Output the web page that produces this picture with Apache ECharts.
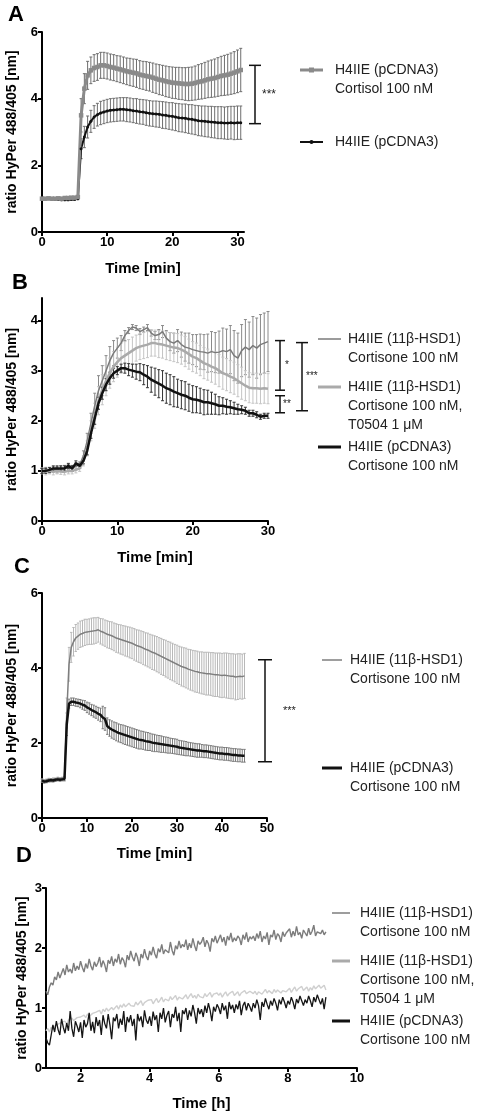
<!DOCTYPE html>
<html>
<head>
<meta charset="utf-8">
<script src="https://cdn.jsdelivr.net/npm/echarts@6/dist/echarts.min.js"></script>
<style>
html,body{margin:0;padding:0;background:#fff;}
#chart{width:478px;height:1115px;}
</style>
</head>
<body>
<div id="chart"></div>
<script>
// ---------- Panel A (time in min, step 0.5) ----------
const tA_start = 0, tA_step = 0.5;
const aCortisol = [1.0,1.0,1.01,1.0,1.0,1.01,1.0,1.02,1.02,1.03,1.03,1.05,
  3.5,4.3,4.7,4.85,4.92,4.95,5.0,5.0,4.98,4.95,
  4.93,4.9,4.88,4.85,4.82,4.8,4.78,4.76,4.72,4.7,
  4.68,4.66,4.63,4.6,4.57,4.55,4.52,4.5,4.48,4.47,
  4.46,4.45,4.44,4.44,4.45,4.47,4.5,4.52,4.55,4.58,
  4.6,4.62,4.65,4.68,4.7,4.72,4.75,4.78,4.82,4.86];
const aCortisolErr = [0.03,0.03,0.03,0.03,0.03,0.03,0.03,0.03,0.03,0.03,0.03,0.03,
  0.5,0.45,0.42,0.4,0.4,0.4,0.39,0.39,0.39,0.39,
  0.39,0.39,0.4,0.4,0.4,0.41,0.41,0.42,0.42,0.42,
  0.43,0.43,0.44,0.44,0.45,0.45,0.46,0.46,0.47,0.47,
  0.48,0.48,0.49,0.5,0.5,0.51,0.52,0.53,0.54,0.55,
  0.56,0.57,0.58,0.59,0.6,0.61,0.62,0.63,0.64,0.65];
const aControl = [1.0,1.0,1.0,0.99,0.98,0.98,0.97,0.97,0.97,0.98,0.98,1.0,
  2.5,2.85,3.15,3.32,3.45,3.52,3.57,3.6,3.63,3.65,
  3.66,3.67,3.68,3.68,3.67,3.66,3.64,3.63,3.61,3.6,
  3.58,3.56,3.55,3.54,3.53,3.51,3.5,3.48,3.47,3.45,
  3.43,3.42,3.41,3.39,3.38,3.36,3.34,3.33,3.32,3.31,
  3.3,3.29,3.28,3.28,3.27,3.27,3.28,3.27,3.28,3.28];
const aControlErr = [0.03,0.03,0.03,0.03,0.03,0.03,0.03,0.03,0.03,0.03,0.03,0.03,
  0.3,0.32,0.33,0.33,0.34,0.34,0.35,0.35,0.35,0.35,
  0.35,0.35,0.35,0.35,0.36,0.36,0.36,0.37,0.37,0.37,
  0.38,0.38,0.38,0.39,0.39,0.4,0.4,0.4,0.41,0.41,
  0.42,0.42,0.43,0.43,0.44,0.44,0.45,0.45,0.46,0.46,
  0.47,0.47,0.48,0.48,0.48,0.49,0.49,0.5,0.5,0.5];

// ---------- Panel B (time in min, step 0.5) ----------
const tB_start = 0, tB_step = 0.5;
const bHSD = [1.0,1.02,1.0,1.03,1.02,1.05,1.05,1.08,1.05,1.1,
  1.12,1.3,1.6,1.95,2.3,2.6,2.8,3.0,3.2,3.35,
  3.45,3.55,3.7,3.8,3.87,3.85,3.78,3.82,3.86,3.75,
  3.7,3.72,3.78,3.65,3.58,3.55,3.6,3.52,3.47,3.45,
  3.42,3.4,3.38,3.37,3.35,3.38,3.36,3.37,3.4,3.38,
  3.42,3.3,3.25,3.4,3.47,3.42,3.5,3.45,3.52,3.55,
  3.58];
const bHSDErr = [0.05,0.05,0.04,0.05,0.06,0.05,0.06,0.05,0.06,0.06,
  0.06,0.1,0.15,0.2,0.25,0.3,0.3,0.3,0.28,0.25,
  0.2,0.15,0.1,0.06,0.05,0.05,0.06,0.05,0.06,0.06,
  0.08,0.1,0.12,0.15,0.18,0.2,0.22,0.25,0.28,0.3,
  0.3,0.32,0.35,0.35,0.38,0.4,0.4,0.42,0.45,0.45,
  0.48,0.5,0.5,0.52,0.55,0.55,0.58,0.6,0.6,0.6,
  0.6];
const bInhib = [1.0,0.98,1.0,0.98,1.0,0.99,0.98,1.0,1.0,1.02,
  1.05,1.2,1.45,1.8,2.1,2.4,2.62,2.8,2.95,3.08,
  3.17,3.25,3.3,3.35,3.4,3.45,3.48,3.5,3.52,3.55,
  3.55,3.53,3.52,3.5,3.48,3.46,3.45,3.42,3.38,3.33,
  3.28,3.25,3.2,3.15,3.12,3.08,3.05,3.0,2.95,2.92,
  2.88,2.85,2.8,2.75,2.7,2.66,2.65,2.65,2.64,2.65,
  2.64];
const bInhibErr = [0.06,0.06,0.06,0.06,0.06,0.06,0.06,0.06,0.06,0.06,
  0.06,0.1,0.15,0.2,0.25,0.28,0.3,0.3,0.3,0.3,
  0.3,0.3,0.28,0.27,0.27,0.26,0.26,0.26,0.26,0.26,
  0.26,0.27,0.27,0.28,0.28,0.28,0.29,0.29,0.3,0.3,
  0.3,0.3,0.3,0.31,0.31,0.31,0.32,0.32,0.32,0.32,
  0.32,0.32,0.32,0.32,0.3,0.3,0.3,0.3,0.3,0.3,
  0.3];
const bControl = [1.0,1.0,1.02,1.05,1.05,1.05,1.05,1.1,1.05,1.15,
  1.1,1.2,1.4,1.75,2.05,2.35,2.55,2.72,2.85,2.95,
  3.0,3.05,3.05,3.02,3.0,2.98,2.97,2.92,2.88,2.82,
  2.78,2.74,2.7,2.65,2.62,2.58,2.55,2.52,2.5,2.46,
  2.43,2.42,2.4,2.37,2.37,2.35,2.33,2.3,2.3,2.28,
  2.27,2.25,2.23,2.22,2.2,2.15,2.15,2.12,2.08,2.1,
  2.1];
const bControlErr = [0.05,0.05,0.05,0.05,0.05,0.05,0.05,0.05,0.05,0.05,
  0.05,0.06,0.08,0.1,0.12,0.12,0.12,0.12,0.12,0.1,
  0.08,0.08,0.1,0.12,0.13,0.15,0.17,0.2,0.22,0.25,
  0.27,0.28,0.3,0.3,0.3,0.3,0.28,0.28,0.28,0.27,
  0.27,0.26,0.25,0.25,0.24,0.22,0.2,0.18,0.16,0.15,
  0.13,0.12,0.1,0.08,0.07,0.06,0.06,0.06,0.05,0.05,
  0.05];

// ---------- Panel C (time in min, step 0.5) ----------
const tC_start = 0, tC_step = 0.5;
const cHSD = [1.0,0.98,1.0,1.02,1.0,1.03,1.02,1.05,1.04,1.05,
  1.06,2.8,4.1,4.55,4.7,4.8,4.85,4.9,4.92,4.95,
  4.96,4.97,4.98,4.99,5.0,5.02,4.98,4.96,4.93,4.9,
  4.88,4.86,4.83,4.8,4.78,4.76,4.74,4.72,4.7,4.68,
  4.66,4.63,4.6,4.58,4.56,4.53,4.5,4.48,4.45,4.42,
  4.4,4.37,4.34,4.31,4.28,4.25,4.22,4.19,4.16,4.13,
  4.1,4.07,4.04,4.02,4.0,3.97,3.95,3.93,3.91,3.9,
  3.88,3.87,3.86,3.85,3.85,3.84,3.83,3.82,3.82,3.81,
  3.8,3.81,3.8,3.79,3.78,3.78,3.76,3.77,3.78,3.77,
  3.79];
const cHSDErr = [0.04,0.04,0.04,0.04,0.04,0.04,0.04,0.04,0.04,0.04,
  0.05,0.4,0.45,0.4,0.38,0.36,0.35,0.35,0.35,0.35,
  0.34,0.34,0.35,0.35,0.34,0.33,0.34,0.35,0.35,0.36,
  0.36,0.37,0.37,0.38,0.38,0.39,0.39,0.4,0.4,0.41,
  0.41,0.42,0.42,0.43,0.43,0.44,0.44,0.45,0.45,0.46,
  0.46,0.47,0.47,0.48,0.48,0.49,0.49,0.5,0.5,0.5,
  0.51,0.51,0.52,0.52,0.53,0.53,0.54,0.54,0.55,0.55,
  0.55,0.56,0.56,0.57,0.57,0.57,0.58,0.58,0.58,0.59,
  0.59,0.59,0.6,0.6,0.6,0.6,0.61,0.61,0.6,0.6,
  0.6];
const cControl = [1.0,0.97,0.98,1.0,1.01,1.0,1.02,1.03,1.02,1.03,
  1.04,2.5,3.05,3.1,3.1,3.08,3.07,3.05,3.02,3.0,
  2.95,2.92,2.88,2.85,2.82,2.78,2.75,2.68,2.64,2.45,
  2.4,2.36,2.33,2.3,2.27,2.25,2.23,2.21,2.19,2.17,
  2.15,2.13,2.11,2.09,2.08,2.07,2.05,2.04,2.03,2.01,
  2.0,1.99,1.98,1.97,1.96,1.95,1.94,1.93,1.92,1.91,
  1.9,1.88,1.87,1.86,1.85,1.84,1.83,1.82,1.81,1.8,
  1.8,1.79,1.78,1.78,1.77,1.76,1.75,1.74,1.73,1.72,
  1.72,1.71,1.71,1.7,1.69,1.68,1.68,1.67,1.67,1.66,
  1.66];
const cControlErr = [0.04,0.04,0.04,0.04,0.04,0.04,0.04,0.04,0.04,0.04,
  0.05,0.3,0.12,0.1,0.1,0.1,0.1,0.11,0.12,0.13,
  0.14,0.15,0.15,0.16,0.16,0.17,0.18,0.3,0.3,0.22,
  0.22,0.23,0.23,0.24,0.24,0.24,0.25,0.25,0.25,0.25,
  0.25,0.25,0.25,0.25,0.24,0.24,0.24,0.24,0.23,0.23,
  0.23,0.22,0.22,0.22,0.21,0.21,0.21,0.2,0.2,0.2,
  0.2,0.19,0.19,0.19,0.19,0.18,0.18,0.18,0.18,0.18,
  0.18,0.17,0.17,0.17,0.17,0.17,0.17,0.17,0.17,0.17,
  0.17,0.17,0.17,0.17,0.17,0.17,0.17,0.17,0.17,0.17,
  0.17];

// ---------- Panel D (time in h, step 0.05) ----------
const tD_start = 1.0, tD_step = 0.05;
const dHSD = [1.28,1.22,1.35,1.42,1.38,1.52,1.47,1.6,1.5,1.58,
  1.66,1.55,1.72,1.6,1.65,1.58,1.75,1.62,1.7,1.64,
  1.78,1.68,1.6,1.74,1.66,1.82,1.7,1.63,1.77,1.69,
  1.75,1.85,1.68,1.79,1.72,1.6,1.8,1.74,1.86,1.7,
  1.82,1.76,1.9,1.73,1.84,1.79,1.68,1.88,1.8,1.95,
  1.85,1.78,1.92,1.84,1.7,1.9,1.83,1.98,1.86,1.8,
  1.95,1.88,2.02,1.9,1.83,1.99,1.93,2.06,1.9,1.97,
  2.0,1.92,2.1,1.96,1.88,2.04,1.98,2.12,2.0,2.06,
  2.02,2.14,1.97,2.08,2.0,2.16,2.04,1.95,2.12,2.06,
  2.1,2.18,2.02,2.13,2.07,1.94,2.16,2.1,2.2,2.08,
  2.15,2.22,2.1,2.18,2.04,2.2,2.13,2.25,2.1,2.17,
  2.12,2.2,2.16,2.05,2.22,2.14,2.26,2.1,2.19,2.15,
  2.2,2.12,2.24,2.16,2.28,2.1,2.2,2.15,2.26,2.05,
  2.22,2.18,2.3,2.14,2.24,2.2,2.1,2.27,2.19,2.25,
  2.24,2.32,2.18,2.28,2.2,2.36,2.22,2.26,2.16,2.3,
  2.25,2.2,2.33,2.22,2.28,2.38,2.2,2.27,2.3,2.24,
  2.3,2.22,2.27];
const dInhib = [0.62,0.66,0.6,0.68,0.64,0.7,0.67,0.73,0.7,0.76,
  0.74,0.78,0.72,0.8,0.77,0.83,0.79,0.76,0.84,0.81,
  0.85,0.82,0.88,0.84,0.9,0.86,0.83,0.91,0.88,0.93,
  0.92,0.96,0.9,0.98,0.94,1.0,0.95,0.92,1.01,0.97,
  1.0,1.04,0.98,1.05,1.01,1.07,1.02,0.99,1.08,1.04,
  1.06,1.03,1.1,1.05,1.08,1.12,1.04,1.09,1.07,1.13,
  1.1,1.14,1.07,1.12,1.16,1.09,1.13,1.18,1.1,1.15,
  1.15,1.12,1.19,1.14,1.17,1.21,1.13,1.18,1.2,1.15,
  1.18,1.22,1.15,1.2,1.24,1.17,1.21,1.16,1.23,1.19,
  1.2,1.17,1.24,1.19,1.22,1.26,1.18,1.23,1.2,1.25,
  1.21,1.25,1.18,1.23,1.27,1.2,1.24,1.22,1.28,1.21,
  1.23,1.27,1.2,1.25,1.22,1.29,1.24,1.21,1.28,1.25,
  1.24,1.28,1.22,1.27,1.3,1.23,1.26,1.31,1.25,1.29,
  1.27,1.24,1.31,1.26,1.3,1.33,1.25,1.29,1.32,1.27,
  1.29,1.33,1.26,1.31,1.35,1.28,1.32,1.3,1.36,1.29,
  1.31,1.35,1.28,1.34,1.3,1.37,1.32,1.29,1.38,1.33,
  1.33,1.38,1.3];
const dControl = [0.5,0.42,0.38,0.55,0.72,0.6,0.78,0.64,0.55,0.82,
  0.68,0.58,0.75,0.62,0.95,0.66,0.52,0.78,0.7,0.6,
  0.76,0.5,0.8,0.68,0.74,0.92,0.62,0.77,0.58,0.85,
  0.7,0.8,0.55,0.88,0.74,0.66,0.9,0.72,0.48,0.84,
  0.78,0.9,0.66,0.82,0.72,0.95,0.6,0.85,0.76,0.88,
  0.7,0.82,0.46,0.9,0.78,0.86,0.68,0.96,0.8,0.74,
  0.86,0.7,0.94,0.8,0.88,0.6,0.92,0.82,1.0,0.76,
  0.88,0.95,0.68,0.9,0.84,1.02,0.78,0.92,0.6,0.96,
  0.9,1.0,0.8,0.96,0.86,1.05,0.92,0.74,1.0,0.9,
  0.98,0.85,1.04,0.92,1.08,0.96,0.78,1.02,0.94,1.06,
  1.0,0.9,1.08,0.96,1.04,0.82,1.1,0.98,1.05,0.92,
  1.06,0.98,1.12,0.88,1.04,1.1,0.96,1.08,1.02,0.94,
  1.08,1.0,1.14,1.04,0.8,1.1,1.02,1.16,1.06,0.98,
  1.12,1.04,1.16,1.08,0.96,1.14,1.06,1.18,1.1,1.0,
  1.12,1.06,1.18,1.1,0.98,1.15,1.08,1.2,1.12,1.04,
  1.14,1.08,1.2,1.12,1.02,1.18,1.1,1.22,1.14,1.06,
  1.16,0.98,1.18];

// ---------- Tick labels ----------
const ticksAx = [0,10,20,30], ticksAy = [0,2,4,6];
const ticksBx = [0,10,20,30], ticksBy = [0,1,2,3,4];
const ticksCx = [0,10,20,30,40,50], ticksCy = [0,2,4,6];
const ticksDx = [2,4,6,8,10], ticksDy = [0,1,2,3];

// ---------- Significance brackets (data y values) ----------
const bracketsA = [{y1:5.0, y2:3.25, label:'***'}];
const bracketsB = [{y1:3.6, y2:2.61, label:'*'},{y1:2.5, y2:2.16, label:'**'},{y1:3.56, y2:2.2, label:'***'}];
const bracketsC = [{y1:4.22, y2:1.5, label:'***'}];

// ---------- Legend texts ----------
const legA = [['H4IIE (pCDNA3)','Cortisol 100 nM'],['H4IIE (pCDNA3)']];
const legB = [['H4IIE (11\u03b2-HSD1)','Cortisone 100 nM'],['H4IIE (11\u03b2-HSD1)','Cortisone 100 nM,','T0504 1 \u03bcM'],['H4IIE (pCDNA3)','Cortisone 100 nM']];
const legC = [['H4IIE (11\u03b2-HSD1)','Cortisone 100 nM'],['H4IIE (pCDNA3)','Cortisone 100 nM']];
const legD = legB;

const FONT = '"Liberation Sans", Arial, sans-serif';
function times(start, step, n){ const r=[]; for(let i=0;i<n;i++) r.push(+(start+i*step).toFixed(3)); return r; }
function pts(t, v){ return t.map((x,i)=>[x, v[i]]); }

function errSeries(gi, t, v, e, color, z, cap){
  return {type:'custom', xAxisIndex:gi, yAxisIndex:gi, z:z, silent:true, clip:false,
    encode:{x:0, y:[1,2]},
    data: t.map((x,i)=>[x, v[i]-e[i], v[i]+e[i]]),
    renderItem: function(params, api){
      const lo = api.coord([api.value(0), api.value(1)]);
      const hi = api.coord([api.value(0), api.value(2)]);
      const w = cap;
      return {type:'group', children:[
        {type:'line', shape:{x1:lo[0],y1:lo[1],x2:hi[0],y2:hi[1]}, style:{stroke:color, lineWidth:1}},
        {type:'line', shape:{x1:hi[0]-w,y1:hi[1],x2:hi[0]+w,y2:hi[1]}, style:{stroke:color, lineWidth:1}},
        {type:'line', shape:{x1:lo[0]-w,y1:lo[1],x2:lo[0]+w,y2:lo[1]}, style:{stroke:color, lineWidth:1}}
      ]};
    }};
}
function lineSeries(gi, t, v, color, width, symbol, size, z){
  return {type:'line', xAxisIndex:gi, yAxisIndex:gi, data:pts(t,v), z:z, silent:true,
    showSymbol: !!symbol, symbol: symbol || 'none', symbolSize:size||0,
    itemStyle:{color:color}, lineStyle:{color:color, width:width}, animation:false};
}

const grids = [
  {left:42, top:32, width:202, height:200, outerBoundsMode:'none', containLabel:false},
  {left:42, top:298, width:226, height:223, outerBoundsMode:'none', containLabel:false},
  {left:42, top:593, width:225, height:225, outerBoundsMode:'none', containLabel:false},
  {left:46, top:888, width:311, height:180, outerBoundsMode:'none', containLabel:false}
];
const axisLineStyle = {show:true, lineStyle:{color:'#000', width:2}};
const tickStyle = {show:true, length:4, lineStyle:{color:'#000', width:2}};
const labelStyle = {color:'#000', fontFamily:FONT, fontWeight:'bold', fontSize:13, margin:4};

function xAxis(gi, min, max, ticks, name, gap){
  return {type:'value', gridIndex:gi, min:min, max:max,
    axisLine:axisLineStyle, axisTick:Object.assign({customValues:ticks}, tickStyle),
    axisLabel:Object.assign({customValues:ticks}, labelStyle), splitLine:{show:false},
    name:name, nameLocation:'middle', nameGap:gap, nameMoveOverlap:false,
    nameTextStyle:{color:'#000', fontFamily:FONT, fontWeight:'bold', fontSize:15}};
}
function yAxis(gi, min, max, ticks, gap){
  return {type:'value', gridIndex:gi, min:min, max:max,
    axisLine:axisLineStyle, axisTick:Object.assign({customValues:ticks}, tickStyle),
    axisLabel:Object.assign({customValues:ticks}, labelStyle), splitLine:{show:false},
    name:'ratio HyPer 488/405 [nm]', nameLocation:'middle', nameGap:gap, nameRotate:90, nameMoveOverlap:false,
    nameTextStyle:{color:'#000', fontFamily:FONT, fontWeight:'bold', fontSize:14}};
}

const tA = times(tA_start, tA_step, aCortisol.length);
const tB = times(tB_start, tB_step, bHSD.length);
const tC = times(tC_start, tC_step, cHSD.length);
const tD = times(tD_start, tD_step, dHSD.length);

const GRAY_A = '#8a8a8a', DGRAY = '#7a7a7a', BLACK = '#111';

const series = [
  // A
  errSeries(0, tA, aControl, aControlErr, '#6e6e6e', 1, 1.5),
  errSeries(0, tA, aCortisol, aCortisolErr, '#6e6e6e', 1, 1.5),
  lineSeries(0, tA, aControl, BLACK, 2, 'circle', 3, 3),
  lineSeries(0, tA, aCortisol, GRAY_A, 3, 'rect', 4.5, 3),
  // B
  errSeries(1, tB, bHSD, bHSDErr, '#8a8a8a', 1, 1.5),
  errSeries(1, tB, bInhib, bInhibErr, '#c4c4c4', 1, 1.5),
  errSeries(1, tB, bControl, bControlErr, '#333', 1, 1.5),
  lineSeries(1, tB, bHSD, DGRAY, 1.5, null, 0, 3),
  lineSeries(1, tB, bInhib, '#aaaaaa', 2.5, null, 0, 3),
  lineSeries(1, tB, bControl, BLACK, 2.5, null, 0, 4),
  // C
  errSeries(2, tC, cHSD, cHSDErr, '#b8b8b8', 1, 1.2),
  errSeries(2, tC, cControl, cControlErr, '#7c7c7c', 1, 1.2),
  lineSeries(2, tC, cHSD, '#7e7e7e', 1.5, null, 0, 3),
  lineSeries(2, tC, cControl, BLACK, 2.5, null, 0, 3),
  // D
  lineSeries(3, tD, dHSD, '#7c7c7c', 1.4, null, 0, 3),
  lineSeries(3, tD, dInhib, '#cfcfcf', 1.4, null, 0, 2),
  lineSeries(3, tD, dControl, '#151515', 1.3, null, 0, 4)
];

const chart = echarts.init(document.getElementById('chart'), null, {renderer:'canvas'});
chart.setOption({
  animation:false,
  backgroundColor:'#fff',
  grid: grids,
  xAxis: [xAxis(0,0,31,ticksAx,'Time [min]',29), xAxis(1,0,30,ticksBx,'Time [min]',29),
          xAxis(2,0,50,ticksCx,'Time [min]',28), xAxis(3,1,10,ticksDx,'Time [h]',28)],
  yAxis: [yAxis(0,0,6,ticksAy,23), yAxis(1,0,4.45,ticksBy,23),
          yAxis(2,0,6,ticksCy,23), yAxis(3,0,3,ticksDy,17)],
  series: series
});

// ---------- Graphic annotations ----------
const g = [];
function txt(x, y, s, opt){
  g.push({type:'text', x:x, y:y, silent:true,
    style:Object.assign({text:s, fill:'#222', font:'14px '+FONT, textVerticalAlign:'middle'}, opt||{})});
}
function seg(x1,y1,x2,y2,color,w){
  g.push({type:'line', silent:true, shape:{x1:x1,y1:y1,x2:x2,y2:y2}, style:{stroke:color, lineWidth:w}});
}
// panel letters
txt(8, 15, 'A', {font:'bold 22px '+FONT, fill:'#000'});
txt(12, 283, 'B', {font:'bold 22px '+FONT, fill:'#000'});
txt(14, 567, 'C', {font:'bold 22px '+FONT, fill:'#000'});
txt(16, 856, 'D', {font:'bold 22px '+FONT, fill:'#000'});

function bracket(gi, br, px, capHalf, labelDx, fontSize){
  const p1 = chart.convertToPixel({gridIndex:gi}, [0, br.y1]);
  const p2 = chart.convertToPixel({gridIndex:gi}, [0, br.y2]);
  seg(px, p1[1], px, p2[1], '#111', 1.5);
  seg(px-capHalf, p1[1], px+capHalf, p1[1], '#111', 1.5);
  seg(px-capHalf, p2[1], px+capHalf, p2[1], '#111', 1.5);
  txt(px+labelDx, (p1[1]+p2[1])/2, br.label, {font:(fontSize||11)+'px '+FONT, fill:'#222'});
}
bracket(0, bracketsA[0], 255, 6, 7, 12);
bracket(1, bracketsB[0], 280, 5, 5, 10);
bracket(1, bracketsB[1], 280, 5, 3, 10);
bracket(1, bracketsB[2], 302, 6, 4, 10);
bracket(2, bracketsC[0], 265, 7, 18, 11);

// legends
function legend(items, lineX1, lineX2, textX, ys, styles){
  items.forEach((lines, k)=>{
    const y0 = ys[k];
    const st = styles[k];
    seg(lineX1, y0, lineX2, y0, st.color, st.width);
    if (st.symbol === 'rect') g.push({type:'rect', silent:true, shape:{x:(lineX1+lineX2)/2-2.5, y:y0-2.5, width:5, height:5}, style:{fill:st.color}});
    if (st.symbol === 'circle') g.push({type:'circle', silent:true, shape:{cx:(lineX1+lineX2)/2, cy:y0, r:2}, style:{fill:st.color}});
    lines.forEach((s, j)=> txt(textX, y0 + j*19, s));
  });
}
legend(legA, 300, 323, 335, [70, 142], [{color:GRAY_A, width:3, symbol:'rect'}, {color:BLACK, width:2, symbol:'circle'}]);
legend(legB, 318, 341, 348, [339, 387, 447], [{color:DGRAY, width:1.5}, {color:'#aaaaaa', width:3}, {color:BLACK, width:3}]);
legend(legC, 322, 342, 350, [660, 768], [{color:'#7e7e7e', width:1.5}, {color:BLACK, width:3}]);
legend(legD, 332, 350, 360, [913, 961, 1021], [{color:'#7c7c7c', width:1.5}, {color:'#aaaaaa', width:3}, {color:BLACK, width:3}]);

chart.setOption({graphic: g});
</script>
</body>
</html>
